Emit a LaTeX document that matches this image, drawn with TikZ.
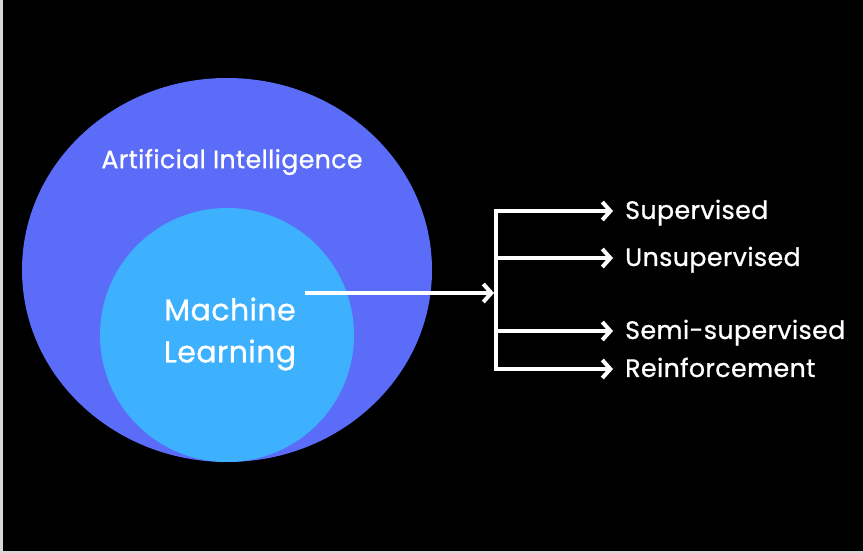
\documentclass[tikz,border=0pt]{standalone}
\usepackage{fontspec}
\setmainfont{Poppins}[FakeBold=0.9, LetterSpace=1.5]
\usetikzlibrary{shapes.geometric,arrows.meta}
\definecolor{aiblue}{HTML}{5A6CF8}
\definecolor{mlblue}{HTML}{3EB1FE}
\definecolor{edge}{HTML}{D8D8D8}
\tikzset{
  conn/.style={draw=white, line width=4pt},
  arr/.style={conn, -{Straight Barb[length=8pt,width=18pt,line width=4pt]}},
  lbl/.style={text=white, inner sep=0pt, anchor=base west, font=\fontsize{25.3}{28}\selectfont},
}
\begin{document}
\begin{tikzpicture}[x=1pt,y=-1pt]
\fill[edge] (0,0) rectangle (863,553);
\fill[black] (3,0) rectangle (863,551);
\useasboundingbox (0,0) rectangle (863,553);
\node[ellipse, fill=aiblue, minimum width=410pt, minimum height=384pt, inner sep=0pt] (ai) at (227,270) {};
\node[circle, fill=mlblue, minimum size=254pt, inner sep=0pt] (ml) at (227,335) {};
\node[text=white, font=\fontsize{25.2}{28}\selectfont, inner sep=0pt] (ait) at (232,162) {Artificial Intelligence};
\node[text=white, align=center, font=\fontsize{30}{42}\selectfont, inner sep=0pt] (mlt) at (230,334) {Machine\\Learning};
\coordinate (start) at (305,293);
\coordinate (bar) at (496,293);
\coordinate (b1) at (496,211);
\coordinate (b2) at (496,258);
\coordinate (b3) at (496,331);
\coordinate (b4) at (496,369);
\node[lbl] (l1) at (625,219) {Supervised};
\node[lbl] (l2) at (625,266) {Unsupervised};
\node[lbl] (l3) at (625,339) {Semi-supervised};
\node[lbl] (l4) at (625,377) {Reinforcement};
\draw[conn, line cap=rect] (b1) -- (b4);
\draw[arr, shorten >=2pt] (start) -- (bar);
\draw[arr, shorten >=12pt] (b1) -- (b1 -| l1.west);
\draw[arr, shorten >=12pt] (b2) -- (b2 -| l2.west);
\draw[arr, shorten >=12pt] (b3) -- (b3 -| l3.west);
\draw[arr, shorten >=12pt] (b4) -- (b4 -| l4.west);
\end{tikzpicture}
\end{document}
